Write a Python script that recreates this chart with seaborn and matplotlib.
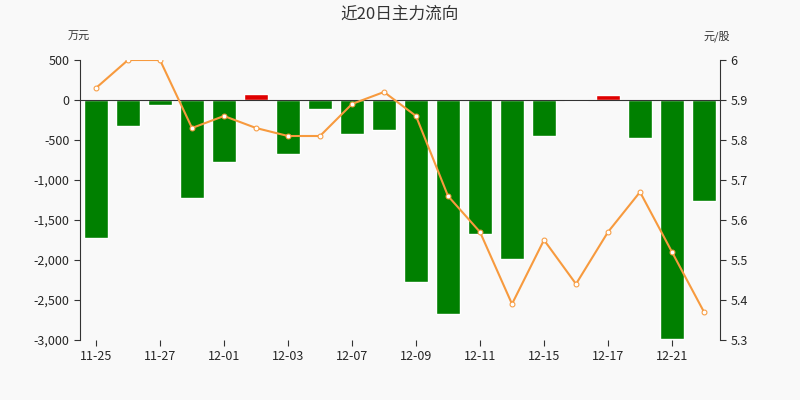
import matplotlib
matplotlib.use("Agg")
import matplotlib.pyplot as plt
import matplotlib.ticker as mticker
import numpy as np
import pandas as pd
import seaborn as sns

dates = ['11-25', '11-26', '11-27', '11-30', '12-01', '12-02', '12-03', '12-04', '12-07', '12-08',
         '12-09', '12-10', '12-11', '12-14', '12-15', '12-16', '12-17', '12-18', '12-21', '12-22']
flow = [-1730, -330, -60, -1230, -780, 80, -680, -110, -430, -380,
        -2270, -2670, -1680, -1990, -450, -10, 60, -480, -2990, -1260]
price = [5.93, 6.0, 6.0, 5.83, 5.86, 5.83, 5.81, 5.81, 5.89, 5.92,
         5.86, 5.66, 5.57, 5.39, 5.55, 5.44, 5.57, 5.67, 5.52, 5.37]

df = pd.DataFrame({'date': dates, 'flow': flow, 'price': price})
df['x'] = np.arange(len(df))

sns.set_style('white')
plt.rcParams['font.family'] = ['Noto Sans CJK SC', 'DejaVu Sans']

fig = plt.figure(figsize=(8, 4), dpi=100, facecolor='#f9f9f9')
ax = fig.add_axes([0.1, 0.15, 0.8, 0.7])
ax.set_facecolor('#f9f9f9')

colors = ['#e00000' if v > 0 else '#008000' for v in df['flow']]
sns.barplot(data=df, x='x', y='flow', hue='x', palette=colors, legend=False,
            width=0.75, saturation=1, ax=ax)
ax.set_xlim(-0.5, len(df) - 0.5)
ax.set_ylim(-3000, 500)
ax.set_yticks(range(-3000, 501, 500))
ax.yaxis.set_major_formatter(mticker.FuncFormatter(lambda v, p: f'{int(v):,}'))
ax.set_xticks(df['x'][::2])
ax.set_xticklabels(df['date'][::2])
ax.set_xlabel('')
ax.set_ylabel('')
ax.axhline(0, color='#333333', lw=0.8)
for s in ['top', 'right']:
    ax.spines[s].set_visible(False)
ax.spines['left'].set_color('#333333')
ax.spines['bottom'].set_visible(False)
ax.tick_params(axis='both', length=4, labelsize=9, color='#333333', left=True, bottom=True)

ax2 = ax.twinx()
sns.lineplot(data=df, x='x', y='price', color='#f79a3e', lw=1.5, marker='o',
             markersize=3.5, markerfacecolor='white', markeredgecolor='#f79a3e', ax=ax2)
ax2.set_ylim(5.3, 6.0)
ax2.set_yticks(np.round(np.arange(5.3, 6.01, 0.1), 1))
ax2.yaxis.set_major_formatter(mticker.FuncFormatter(lambda v, p: f'{v:g}'))
ax2.set_ylabel('')
ax2.set_xlabel('')
for s in ['top', 'left', 'bottom']:
    ax2.spines[s].set_visible(False)
ax2.spines['right'].set_color('#333333')
ax2.tick_params(axis='y', length=4, labelsize=9, color='#333333', right=True)

fig.text(0.5, 0.965, '近20日主力流向', ha='center', va='center', fontsize=12, color='#333333')
fig.text(0.085, 0.9, '万元', fontsize=8, color='#333333')
fig.text(0.88, 0.9, '元/股', fontsize=8, color='#333333')

fig.savefig('out.png', facecolor=fig.get_facecolor())
